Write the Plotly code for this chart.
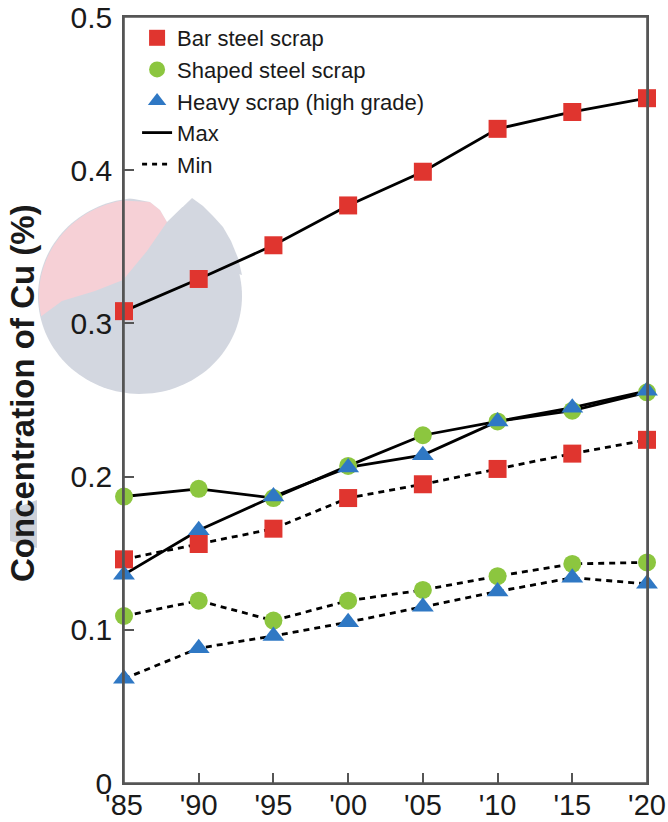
import numpy as np
import plotly.graph_objects as go

# ---------------- data ----------------
years = [1985, 1990, 1995, 2000, 2005, 2010, 2015, 2020]
year_labels = ["'85", "'90", "'95", "'00", "'05", "'10", "'15", "'20"]

bar_max = [0.308, 0.329, 0.351, 0.377, 0.399, 0.427, 0.438, 0.447]
bar_min = [0.146, 0.156, 0.166, 0.186, 0.195, 0.205, 0.215, 0.224]

shaped_max = [0.187, 0.192, 0.186, 0.207, 0.227, 0.236, 0.243, 0.255]
shaped_min = [0.109, 0.119, 0.106, 0.119, 0.126, 0.135, 0.143, 0.144]

heavy_max = [0.136, 0.165, 0.187, 0.206, 0.214, 0.236, 0.245, 0.256]
heavy_min = [0.068, 0.088, 0.096, 0.105, 0.115, 0.125, 0.134, 0.130]

y_ticks = [0, 0.1, 0.2, 0.3, 0.4, 0.5]
y_tick_labels = ["0", "0.1", "0.2", "0.3", "0.4", "0.5"]

series = [
    ("Bar steel scrap", bar_max, bar_min, "#e0352f", "square"),
    ("Shaped steel scrap", shaped_max, shaped_min, "#8cc63f", "circle"),
    ("Heavy scrap (high grade)", heavy_max, heavy_min, "#2f78c4", "triangle-up"),
]

FONT = "Liberation Sans, Arial, Helvetica, sans-serif"
W, H = 668, 822
ML, MR, MT, MB = 124, 21, 17, 39
PW = W - ML - MR
PH = H - MT - MB
AXC = "#555555"

fig = go.Figure()

# lines first (so all markers sit on top)
for name, vmax, vmin, col, sym in series:
    fig.add_trace(go.Scatter(x=years, y=vmax, mode="lines",
                             line=dict(color="black", width=2.8),
                             showlegend=False, hoverinfo="skip"))
    fig.add_trace(go.Scatter(x=years, y=vmin, mode="lines",
                             line=dict(color="black", width=2.8, dash="6px,5px"),
                             showlegend=False, hoverinfo="skip"))

for name, vmax, vmin, col, sym in series:
    size = 18 if sym != "triangle-up" else 19
    fig.add_trace(go.Scatter(x=years, y=vmax, mode="markers", name=name,
                             marker=dict(color=col, symbol=sym, size=size, line=dict(width=0)),
                             cliponaxis=False, showlegend=True, legendgroup=name))
    fig.add_trace(go.Scatter(x=years, y=vmin, mode="markers", name=name,
                             marker=dict(color=col, symbol=sym, size=size, line=dict(width=0)),
                             cliponaxis=False, showlegend=False, legendgroup=name))

fig.add_trace(go.Scatter(x=[None], y=[None], mode="lines", name="Max",
                         line=dict(color="black", width=2.8)))
fig.add_trace(go.Scatter(x=[None], y=[None], mode="lines", name="Min",
                         line=dict(color="black", width=2.8, dash="5px,5px")))


# ---------------- faint watermark decoration (pixel -> paper) ----------------
def px(x):
    return (x - ML) / PW


def py(y):
    return (H - MB - y) / PH


def path_from(points):
    return "M " + " L ".join(f"{px(a):.5f},{py(b):.5f}" for a, b in points) + " Z"


cx, cy, r = 140, 296, 102
ang = np.linspace(0, 2 * np.pi, 140)
circle_pts = [(cx + r * np.cos(a), cy - 0.96 * r * np.sin(a)) for a in ang]

arc = np.linspace(np.deg2rad(100), np.deg2rad(192), 60)
pink_pts = [(cx + (r - 1) * np.cos(a), cy - 0.96 * (r - 1) * np.sin(a)) for a in arc]
pink_pts += [(62, 301), (95, 291), (123, 280), (147, 251), (167, 222), (160, 210), (150, 202)]

bulge_pts = [(167, 222), (192, 198), (203, 206), (213, 216), (223, 227), (231, 241),
             (238, 258), (242, 275), (200, 262)]
wedge_pts = [(167, 222), (204, 186), (204, 175), (123, 175), (123, 197),
             (150, 202), (160, 210)]
smudge_pts = [(37, 500), (37, 548), (10, 541), (10, 510)]

GRAY = "rgb(211,215,224)"
shapes = [
    dict(type="path", xref="paper", yref="paper", path=path_from(circle_pts),
         fillcolor=GRAY, line=dict(width=0), layer="below"),
    dict(type="path", xref="paper", yref="paper", path=path_from(bulge_pts),
         fillcolor=GRAY, line=dict(width=0), layer="below"),
    dict(type="path", xref="paper", yref="paper", path=path_from(pink_pts),
         fillcolor="rgb(246,208,214)", line=dict(width=0), layer="below"),
    dict(type="path", xref="paper", yref="paper", path=path_from(wedge_pts),
         fillcolor="white", line=dict(width=0), layer="below"),
    dict(type="path", xref="paper", yref="paper", path=path_from(smudge_pts),
         fillcolor="rgb(205,209,217)", line=dict(width=0), layer="below"),
    # plot frame
    dict(type="rect", xref="paper", yref="paper", x0=0, x1=1, y0=0, y1=1,
         line=dict(color=AXC, width=1.6), fillcolor="rgba(0,0,0,0)", layer="above"),
]

axis_common = dict(
    showline=True, linecolor=AXC, linewidth=1.6, mirror=True,
    ticks="inside", ticklen=10, tickwidth=1.6, tickcolor=AXC,
    showgrid=False, zeroline=False, ticklabeloverflow="allow", automargin=False,
)

fig.update_layout(
    width=W, height=H,
    margin=dict(l=ML, r=MR, t=MT, b=MB, autoexpand=False),
    paper_bgcolor="white",
    plot_bgcolor="rgba(0,0,0,0)",
    shapes=shapes,
    font=dict(family=FONT, color="#1a1a1a"),
    xaxis=dict(range=[1985, 2020], tickvals=years, ticktext=year_labels,
               ticklabelstandoff=-5,
               tickfont=dict(family=FONT, size=29, color="#1a1a1a"), **axis_common),
    yaxis=dict(range=[0, 0.5], tickvals=y_ticks, ticktext=y_tick_labels,
               ticklabelstandoff=4,
               tickfont=dict(family=FONT, size=30, color="#1a1a1a"), **axis_common),
    legend=dict(x=0.025, y=1.0, xanchor="left", yanchor="top",
                bgcolor="rgba(0,0,0,0)", borderwidth=0,
                font=dict(family=FONT, size=22, color="#1a1a1a"),
                tracegroupgap=0, traceorder="normal"),
    annotations=[dict(text="<b>Concentration of Cu (%)</b>", textangle=-90,
                      xref="paper", yref="paper", x=px(22), y=py(393),
                      xanchor="center", yanchor="middle", showarrow=False,
                      font=dict(family=FONT, size=33, color="#1a1a1a"))],
    showlegend=True,
)

fig.write_html(
    "out.html",
    config={"displayModeBar": False},
    post_script=(
        "document.body.style.margin='0';"
        "document.body.style.overflow='hidden';"
        "document.documentElement.style.overflow='hidden';"
    ),
)
